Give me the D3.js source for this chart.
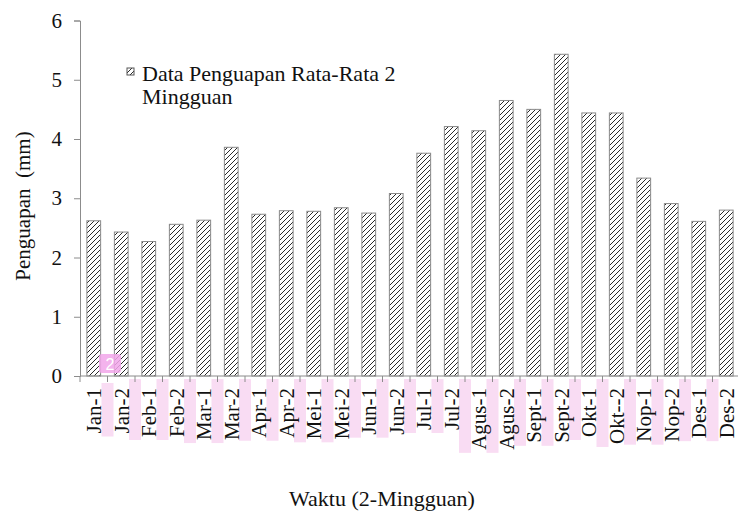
<!DOCTYPE html>
<meta charset="utf-8">
<style>
    body { margin: 0; background: #fff; }
    .axis path, .axis line { stroke: #8c8c8c; }
    .bar { stroke: #8a8a8a; stroke-width: 1; }
</style>
<svg width="738" height="516"></svg>
<script src="https://cdn.jsdelivr.net/npm/d3@7"></script>
<script>

    var labels = ["Jan-1", "Jan-2", "Feb-1", "Feb-2", "Mar-1", "Mar-2", "Apr-1", "Apr-2",
        "Mei-1", "Mei-2", "Jun-1", "Jun-2", "Jul-1", "Jul-2", "Agus-1", "Agus-2",
        "Sept-1", "Sept-2", "Okt-1", "Okt--2", "Nop-1", "Nop-2", "Des-1", "Des-2"];

    var penguapan = [2.62, 2.43, 2.27, 2.56, 2.63, 3.86, 2.73, 2.79,
        2.78, 2.84, 2.75, 3.08, 3.76, 4.21, 4.14, 4.65,
        4.50, 5.43, 4.44, 4.44, 3.34, 2.91, 2.61, 2.80];

    var yTicks = [0, 1, 2, 3, 4, 5, 6];

    var serif = "Liberation Serif";

    var svg = d3.select("svg");

    var x = d3.scaleBand()
        .domain(labels)
        .range([80, 740])
        .paddingInner(0.5)
        .paddingOuter(0.25);

    var y = d3.scaleLinear()
        .domain([0, 6])
        .range([376, 20.5]);

    // hatch pattern
    var pat = svg.append("defs").append("pattern")
        .attr("id", "hatch")
        .attr("patternUnits", "userSpaceOnUse")
        .attr("width", 5).attr("height", 5);
    pat.append("rect").attr("width", 5).attr("height", 5).attr("fill", "#fff");
    pat.append("path")
        .attr("d", "M-1,1 l2,-2 M0,5 l5,-5 M4,6 l2,-2")
        .attr("stroke", "#2a2a2a").attr("stroke-width", 1);

    // pink highlight strips behind the tick labels (from the source picture)
    var strips = svg.append("g");

    svg.selectAll(".bar")
        .data(penguapan)
        .enter().append("rect")
        .attr("class", "bar")
        .attr("x", function (d, i) { return x(labels[i]); })
        .attr("y", function (d) { return y(d); })
        .attr("width", x.bandwidth())
        .attr("height", function (d) { return y(0) - y(d); })
        .attr("fill", "url(#hatch)");

    // y axis
    var yAxis = svg.append("g")
        .attr("class", "axis")
        .attr("transform", "translate(80,0)")
        .call(d3.axisLeft(y).tickValues(yTicks).tickSize(6).tickPadding(12).tickFormat(d3.format("d")));
    yAxis.selectAll("text")
        .style("font-family", serif).style("font-size", "21px").attr("fill", "#111");

    // x axis: ticks between categories
    var step = x.step();
    var xg = svg.append("g").attr("class", "axis");
    xg.append("line")
        .attr("x1", 80).attr("x2", 738)
        .attr("y1", y(0)).attr("y2", y(0));
    xg.selectAll(".tk")
        .data(d3.range(labels.length + 1))
        .enter().append("line")
        .attr("x1", function (i) { return 80 + i * step; })
        .attr("x2", function (i) { return 80 + i * step; })
        .attr("y1", y(0)).attr("y2", y(0) + 6);

    var xl = svg.selectAll(".xl")
        .data(labels)
        .enter().append("text")
        .attr("class", "xl")
        .attr("transform", function (d) { return "translate(" + (x(d) + x.bandwidth() / 2) + "," + 388 + ") rotate(-90)"; })
        .attr("dy", "0.35em")
        .attr("text-anchor", "end")
        .style("font-family", serif)
        .style("font-size", "21px")
        .attr("fill", "#111")
        .text(function (d) { return d; });

    xl.each(function (d, i) {
        if (i === 0) return;
        var len = this.getComputedTextLength();
        var top = i === 1 ? 383 : 379;
        strips.append("rect")
            .attr("x", 80 + i * step - 6)
            .attr("y", top)
            .attr("width", 12)
            .attr("height", 388 + len + 3 - top)
            .attr("fill", "#f9dcf3");
    });

    // small pink badge
    svg.append("rect")
        .attr("x", 99).attr("y", 354).attr("width", 22).attr("height", 19).attr("rx", 3)
        .attr("fill", "#f2a6ea").attr("opacity", 0.85);
    svg.append("text")
        .attr("x", 110).attr("y", 370).attr("text-anchor", "middle")
        .style("font-family", "Liberation Sans").style("font-size", "16px").attr("fill", "#fff")
        .text("2");

    // legend
    svg.append("rect")
        .attr("x", 127).attr("y", 68).attr("width", 7).attr("height", 7)
        .attr("fill", "url(#hatch)").attr("stroke", "#555");
    svg.append("text").attr("x", 142).attr("y", 81)
        .style("font-family", serif).style("font-size", "22px").attr("fill", "#111")
        .text("Data Penguapan Rata-Rata 2");
    svg.append("text").attr("x", 142).attr("y", 104)
        .style("font-family", serif).style("font-size", "22px").attr("fill", "#111")
        .text("Mingguan");

    // axis titles
    svg.append("text")
        .attr("transform", "translate(30,206) rotate(-90)")
        .attr("text-anchor", "middle")
        .style("font-family", serif).style("font-size", "21px").attr("fill", "#111")
        .text("Penguapan\u00a0\u00a0(mm)");

    svg.append("text")
        .attr("x", 382).attr("y", 506)
        .attr("text-anchor", "middle")
        .style("font-family", serif).style("font-size", "22px").attr("fill", "#111")
        .text("Waktu (2-Mingguan)");

</script>
